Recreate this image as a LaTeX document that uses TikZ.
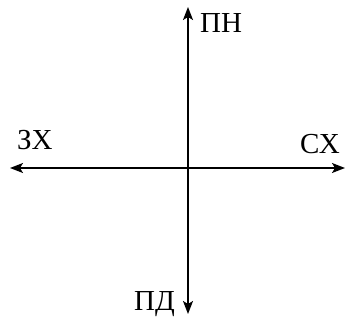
\documentclass[tikz,border=0pt]{standalone}
\usepackage{fontspec}
\setmainfont{Liberation Serif}
\usetikzlibrary{arrows.meta}
\begin{document}
\begin{tikzpicture}[x=1pt,y=-1pt,
  axis/.style={line width=1.5pt,-{Stealth[length=13pt,width=10pt,inset=3pt]}},
  lbl/.style={inner sep=0pt,anchor=base west,font=\fontsize{29}{31}\selectfont}]
\useasboundingbox (0,0) rectangle (363,323);
\coordinate (o) at (188,168);
\coordinate (n) at (188,7);
\coordinate (s) at (188,314);
\coordinate (w) at (10,168);
\coordinate (e) at (345,168);
\draw[axis] (o) -- (n);
\draw[axis] (o) -- (s);
\draw[axis] (o) -- (w);
\draw[axis] (o) -- (e);
\node[lbl] (ln) at (200,33) {ПН};
\node[lbl] (ls) at (134,310) {ПД};
\node[lbl] (lw) at (17,149) {ЗХ};
\node[lbl] (le) at (300,153) {СХ};
\end{tikzpicture}
\end{document}
